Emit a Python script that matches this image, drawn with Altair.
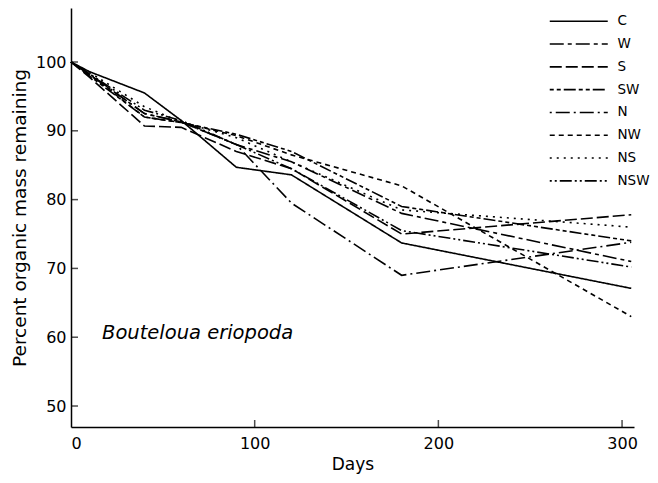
import altair as alt
import pandas as pd

# ---- data ----
days = [0, 10, 40, 60, 90, 120, 180, 305]
treatments = ["C", "W", "S", "SW", "N", "NW", "NS", "NSW"]
C   = [100, 98.6, 95.5, 91.5, 84.7, 83.6, 73.7, 67.1]
W   = [100, 98.2, 92.5, 91.3, 88.0, 85.5, 78.0, 71.0]
S   = [100, 97.8, 90.7, 90.5, 87.0, 84.5, 75.0, 77.8]
SW  = [100, 98.0, 92.0, 91.2, 89.5, 87.0, 79.0, 74.0]
N   = [100, 98.3, 92.5, 91.3, 88.0, 79.5, 69.0, 73.8]
NW  = [100, 98.2, 92.0, 91.2, 89.3, 86.5, 82.0, 63.0]
NS  = [100, 98.5, 93.5, 91.3, 89.0, 85.5, 78.5, 76.0]
NSW = [100, 98.3, 93.0, 91.5, 88.0, 84.5, 75.5, 70.2]
series = [C, W, S, SW, N, NW, NS, NSW]

ytick_vals = [50, 60, 70, 80, 90, 100]
xtick_vals = [100, 200, 300]
species = ["Bouteloua eriopoda"]

rows = []
for t, vals in zip(treatments, series):
    for d, v in zip(days, vals):
        rows.append({"day": d, "mass": v, "treatment": t})
df = pd.DataFrame(rows)

dashes = [[1, 0], [14, 4, 4, 4], [12, 4], [4, 3, 4, 3, 12, 3],
          [2, 4, 14, 4], [5, 4], [2, 5], [2, 3, 2, 3, 12, 3]]

FONT = "DejaVu Sans"
W_PLOT, H_PLOT = 563, 419
xscale = alt.Scale(domain=[0, 306.5], nice=False, zero=False)
yscale = alt.Scale(domain=[46.95, 107.85], nice=False, zero=False)

lines = alt.Chart(df).mark_line(color="black", strokeWidth=1.6).encode(
    x=alt.X("day:Q", scale=xscale,
            axis=alt.Axis(values=[0, 100, 200, 300], ticks=False, grid=False,
                          title="Days", labelPadding=8, titlePadding=5,
                          titleFontSize=17)),
    y=alt.Y("mass:Q", scale=yscale,
            axis=alt.Axis(values=ytick_vals, ticks=False, grid=False,
                          title="Percent organic mass remaining",
                          labelPadding=5, titlePadding=6, titleFontSize=18.5)),
    strokeDash=alt.StrokeDash(
        "treatment:N", sort=treatments,
        scale=alt.Scale(domain=treatments, range=dashes),
        legend=alt.Legend(orient="none", legendX=501, legendY=6.5, title=None,
                          symbolType="M-5.8,0H5.8", symbolSize=100,
                          symbolStrokeColor="black", symbolStrokeWidth=1.6,
                          symbolFillColor="transparent",
                          labelOffset=32, rowPadding=7.8, padding=0,
                          labelFont=FONT, labelFontSize=13.5, labelColor="black"),
    ),
)

yt = alt.Chart(pd.DataFrame({"mass": ytick_vals})).mark_tick(
    color="black", thickness=1.5, size=7, orient="horizontal"
).encode(y=alt.Y("mass:Q", scale=yscale), x=alt.value(3.5))

xt = alt.Chart(pd.DataFrame({"day": xtick_vals})).mark_tick(
    color="black", thickness=1.5, size=7, orient="vertical"
).encode(x=alt.X("day:Q", scale=xscale), y=alt.value(H_PLOT - 3.5))

label = alt.Chart(pd.DataFrame({"name": species})).mark_text(
    font=FONT, fontSize=19.5, fontStyle="italic", align="left", baseline="middle",
    color="black"
).encode(text="name:N", x=alt.value(31), y=alt.value(325))

chart = alt.layer(lines, yt, xt, label).properties(
    width=W_PLOT, height=H_PLOT,
    autosize=alt.AutoSizeParams(type="none"),
    padding={"left": 63, "top": 0, "right": 16, "bottom": 48},
).configure_view(stroke=None).configure_axis(
    domainColor="black", domainWidth=1.5, labelFont=FONT, labelFontSize=16,
    labelColor="black", titleFont=FONT,
    titleFontWeight="normal", titleColor="black"
)

chart.save("out.html", embed_options={"renderer": "svg", "actions": False})
